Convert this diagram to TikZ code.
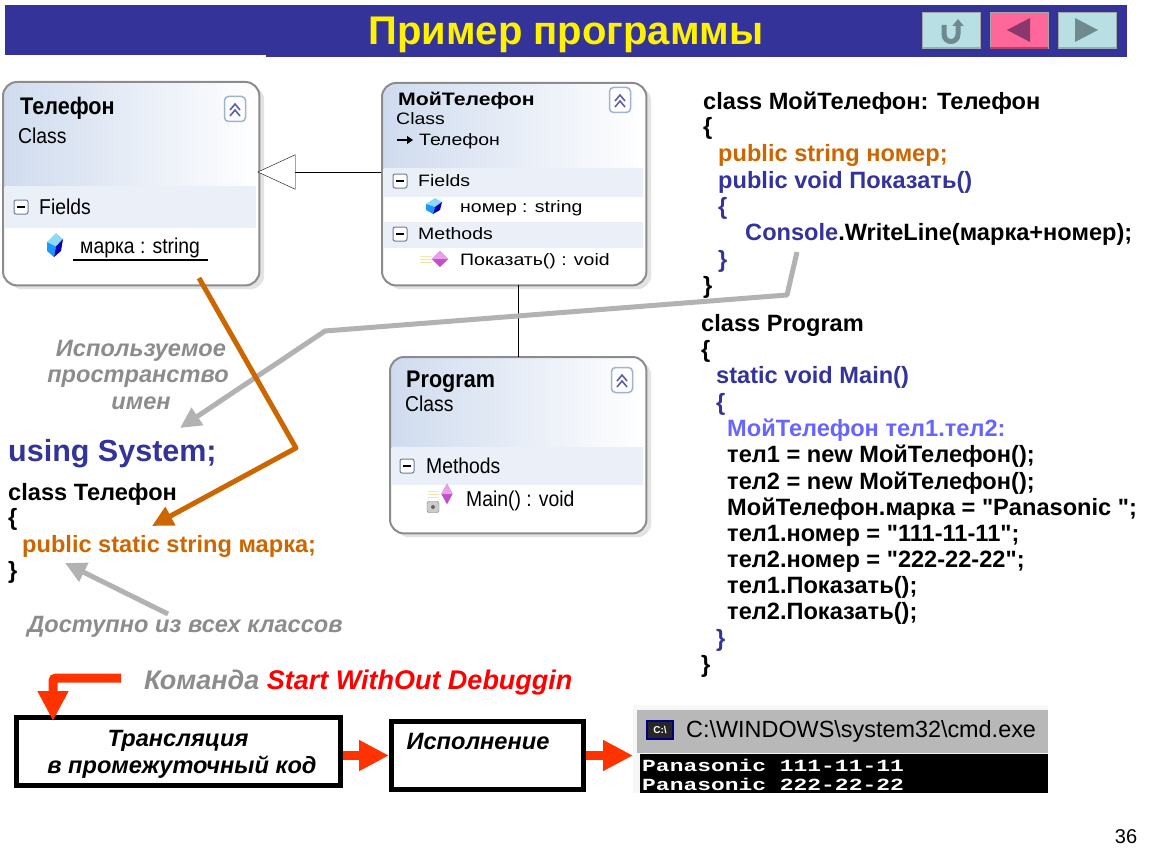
\documentclass[tikz,border=0pt]{standalone}
\usepackage{fontspec}
\setmainfont{Liberation Sans}
\newfontfamily\plainfont{Liberation Sans}
\newfontfamily\umlnarrow[FakeStretch=0.9]{Liberation Sans}
\newfontfamily\umlwide[FakeStretch=1.18]{Liberation Sans}
\newfontfamily\cmdfont[FakeStretch=1.35]{Liberation Mono}
\usetikzlibrary{arrows.meta,shadows}

\definecolor{bandblue}{HTML}{333399}
\definecolor{codeorange}{HTML}{CC6600}
\definecolor{codeblue}{HTML}{333399}
\definecolor{codelight}{HTML}{6666FF}
\definecolor{notegray}{HTML}{8C8C8C}
\definecolor{flowred}{HTML}{FF3300}
\definecolor{headblue}{HTML}{CFDBEE}
\definecolor{rowblue}{HTML}{EBEFF7}
\definecolor{btnblue}{HTML}{B8DFE3}
\definecolor{btnpink}{HTML}{FF6699}
\definecolor{btnicon}{HTML}{6F8A8C}
\definecolor{toggleedge}{HTML}{9DB3D0}
\definecolor{iconpale}{HTML}{F2E8A0}
\definecolor{iconviolet}{HTML}{C04FC8}
\definecolor{iconlilac}{HTML}{E8A0E8}

\newcommand{\qt}{{\plainfont\char34}}
\newcommand{\classframe}[2]{%
  \begin{scope}
    \clip[rounded corners=14] (#1.north west) rectangle (#1.south east);
    \shade[left color=headblue,right color=white] (#1.north west) rectangle (#1.east |- 0,#2);
  \end{scope}
  \draw[rounded corners=14,line width=2,draw=black!45] (#1.north west) rectangle (#1.south east);
}
\newcommand{\togglebtn}[3]{%
  \node (#1) [minimum width=21,minimum height=25,rounded corners=4,draw=toggleedge,line width=1.5,fill=white] at (#2,#3) {};
  \draw[line width=1.6,draw=bandblue!80] ([xshift=-5,yshift=-1]#1.center) -- ([yshift=5]#1.center) -- ([xshift=5,yshift=-1]#1.center);
  \draw[line width=1.6,draw=bandblue!80] ([xshift=-5,yshift=-7]#1.center) -- ([yshift=-1]#1.center) -- ([xshift=5,yshift=-7]#1.center);
}
\newcommand{\minusbtn}[3]{%
  \node (#1) [minimum width=14,minimum height=14,rounded corners=2,draw=toggleedge!70!black,line width=1,fill=white] at (#2,#3) {};
  \draw[line width=1.5] ([xshift=-4]#1.center) -- ([xshift=4]#1.center);
}
\newcommand{\fieldicon}[3]{%
  \begin{scope}[shift={(#1,#2)},yscale=#3]
    \fill[cyan!45] (-8,-2) -- (1,-8) -- (8,-4) -- (1,1) -- cycle;
    \fill[blue!45!cyan!90] (-8,-2) -- (1,1) -- (-1,8) -- (-8,4) -- cycle;
    \fill[blue!70!black] (1,1) -- (8,-4) -- (6,4) -- (-1,8) -- cycle;
  \end{scope}
}
\newcommand{\methodicon}[4]{%
  \begin{scope}[shift={(#1,#2)},xscale=#3,yscale=#4]
    \fill[iconviolet] (-8,0) -- (0,-9) -- (8,0) -- (0,9) -- cycle;
    \fill[iconlilac] (-8,0) -- (0,-9) -- (8,0) -- cycle;
  \end{scope}
}

\begin{document}
\begin{tikzpicture}[x=1pt,y=-1pt]
  \tikzset{
    classbox/.style={rounded corners=14,minimum width=#1,fill=white,anchor=north west,
      drop shadow={shadow xshift=5,shadow yshift=4,fill=black!22}},
    codeline/.style={anchor=base west,inner sep=0,font=\fontsize{23.6}{28}\selectfont\bfseries},
    umlname/.style={anchor=west,inner sep=0,yshift=-2,text height=18,text depth=6,font=\umlnarrow\fontsize{24}{28}\selectfont\bfseries},
    umltext/.style={anchor=west,inner sep=0,yshift=-2,text height=16,text depth=5.4,font=\umlnarrow\fontsize{21.5}{26}\selectfont},
    umlwname/.style={anchor=west,inner sep=0,yshift=-2,text height=13.5,text depth=4.5,font=\umlwide\fontsize{18}{22}\selectfont\bfseries},
    umlwtext/.style={anchor=west,inner sep=0,yshift=-1.5,text height=12.4,text depth=4.1,font=\umlwide\fontsize{16.5}{20}\selectfont},
    notetext/.style={inner sep=0,yshift=-1.5,text=notegray,text height=18,text depth=6,font=\fontsize{23.6}{28}\selectfont\bfseries\itshape},
    flowbox/.style={draw=black,line width=5,fill=white,anchor=north west},
    flowtext/.style={inner sep=0,yshift=-1.5,text height=18,text depth=6,font=\fontsize{23.6}{28}\selectfont\bfseries\itshape},
    flowarrow/.style={draw=flowred,line width=9,-{Triangle[length=30,width=29,fill=flowred]}},
    notearrow/.style={draw=black!30,line width=5,-{Triangle[length=21,width=20,fill=black!30]}},
    navbtn/.style={minimum width=58,minimum height=36,draw=black!35,fill=btnblue},
  }
  \useasboundingbox (0,0) rectangle (1150,864);

  % title band
  \fill[bandblue] (5,5) rectangle (1127,55);
  \fill[bandblue] (266,50) rectangle (1127,57);
  \node (title) [inner sep=0,text=yellow,text height=30,text depth=10,font=\fontsize{40}{46}\selectfont\bfseries] at (566,35) {Пример программы};
  \node (backbtn) [navbtn] at (951,30) {};
  \node (prevbtn) [navbtn,fill=btnpink] at (1019,30) {};
  \node (nextbtn) [navbtn] at (1087,30) {};
  \draw[line width=2.5,draw=btnicon!70] (backbtn.south west) -- (backbtn.south east);
  \draw[line width=2.5,draw=btnpink!70!black] (prevbtn.south west) -- (prevbtn.south east);
  \draw[line width=2.5,draw=btnicon!70] (nextbtn.south west) -- (nextbtn.south east);
  \draw[line width=5,draw=btnicon,-{Triangle[length=7,width=11]}] (944,25) -- (944,34) .. controls (944,44) and (958,44) .. (958,34) -- (958,19);
  \fill[black!40!btnpink!90!blue] (1007,30) -- (1030,18) -- (1030,42) -- cycle;
  \fill[btnicon] (1098,30) -- (1075,18) -- (1075,42) -- cycle;

  % class Телефон
  \node (telefon) [classbox=256,minimum height=203] at (3,82) {};
  \classframe{telefon}{186}
  \fill[rowblue] (5,186) rectangle (256,228);
  \togglebtn{teltoggle}{235}{109}
  \node (telname) [umlname] at (20,107) {Телефон};
  \node (telkind) [umltext] at (18,136) {Class};
  \minusbtn{telminus}{21}{207}
  \node (telfields) [umltext] at (39,207) {Fields};
  \fieldicon{55}{245}{1.5}
  \node (telmarka) [umltext] at (80,246) {марка : string};
  \draw[line width=2.5] (73,260) -- (208,260);

  % class МойТелефон
  \node (mytel) [classbox=264,minimum height=202] at (382,83) {};
  \classframe{mytel}{168}
  \fill[rowblue] (384,168) rectangle (643,197);
  \fill[rowblue] (384,222) rectangle (643,248);
  \togglebtn{mytoggle}{620}{100}
  \node (myname) [umlwname] at (398,99) {МойТелефон};
  \node (mykind) [umlwtext] at (396,119) {Class};
  \draw[line width=1.2,-{Triangle[length=6,width=8]}] (397,140) -- (413,140);
  \node (mybase) [umlwtext] at (419,140) {Телефон};
  \minusbtn{myminusa}{400}{181}
  \node (myfields) [umlwtext] at (418,181) {Fields};
  \fieldicon{434}{206}{1}
  \node (mynomer) [umlwtext] at (460,207) {номер : string};
  \minusbtn{myminusb}{400}{234}
  \node (mymethods) [umlwtext] at (418,234) {Methods};
  \draw[line width=1,draw=iconpale] (420,256) -- (432,256) (420,259) -- (432,259) (420,262) -- (432,262);
  \methodicon{440}{259}{1}{0.9}
  \node (myshow) [umlwtext] at (460,260) {Показать() : void};

  % class Program
  \node (prog) [classbox=256,minimum height=176] at (390,357) {};
  \classframe{prog}{447}
  \fill[rowblue] (392,447) rectangle (643,485);
  \togglebtn{progtoggle}{622}{380}
  \node (progname) [umlname] at (406,379) {Program};
  \node (progkind) [umltext] at (405,404) {Class};
  \minusbtn{progminus}{407}{466}
  \node (progmethods) [umltext] at (426,466) {Methods};
  \draw[line width=1,draw=iconpale] (428,491) -- (439,491) (428,494) -- (439,494) (428,497) -- (439,497);
  \node (proglock) [minimum width=12,minimum height=11,inner sep=0,rounded corners=2,draw=black!55,fill=black!20] at (433,507) {};
  \fill[black!60] (proglock.center) circle[radius=2];
  \methodicon{447}{494}{0.7}{1.15}
  \node (progmain) [umltext] at (466,499) {Main() : void};

  % links between classes
  \coordinate (inhstart) at (381,172);
  \draw[-{Triangle[open,length=38,width=35,fill=white]}] (inhstart) -- ([xshift=-2]telefon.east |- inhstart);
  \draw (prog.north |- mytel.south) -- (prog.north);

  % code on the right
  \node (c1) [codeline] at (703,110) {class МойТелефон: Телефон};
  \node (c2) [codeline] at (703,135) {\{};
  \node (c3) [codeline,text=codeorange] at (718,161) {public string номер;};
  \node (c4) [codeline,text=codeblue] at (718,188) {public void Показать()};
  \node (c5) [codeline,text=codeblue] at (718,214) {\{};
  \node (c6) [codeline] at (745,240) {\textcolor{codeblue}{Console}.WriteLine(марка+номер);};
  \node (c7) [codeline,text=codeblue] at (718,267) {\}};
  \node (c8) [codeline] at (703,293) {\}};
  \node (p1) [codeline] at (701,331) {class Program};
  \node (p2) [codeline] at (701,357) {\{};
  \node (p3) [codeline,text=codeblue] at (716,383) {static void Main()};
  \node (p4) [codeline,text=codeblue] at (716,410) {\{};
  \node (p5) [codeline,text=codelight] at (727,436) {МойТелефон тел1.тел2:};
  \node (p6) [codeline] at (727,462) {тел1 = new МойТелефон();};
  \node (p7) [codeline] at (727,489) {тел2 = new МойТелефон();};
  \node (p8) [codeline] at (727,515) {МойТелефон.марка = \qt Panasonic \qt;};
  \node (p9) [codeline] at (727,541) {тел1.номер = \qt 111-11-11\qt;};
  \node (p10) [codeline] at (727,567) {тел2.номер = \qt 222-22-22\qt;};
  \node (p11) [codeline] at (727,593) {тел1.Показать();};
  \node (p12) [codeline] at (727,619) {тел2.Показать();};
  \node (p13) [codeline,text=codeblue] at (716,646) {\}};
  \node (p14) [codeline] at (701,672) {\}};

  % code on the left
  \node (using) [codeline,text=codeblue,font=\fontsize{30.5}{34}\selectfont\bfseries] at (8,461) {using System;};
  \node (l1) [codeline] at (8,500) {class Телефон};
  \node (l2) [codeline] at (8,525) {\{};
  \node (l3) [codeline,text=codeorange] at (22,552) {public static string марка;};
  \node (l4) [codeline] at (8,578) {\}};

  % notes
  \node (n1) [notetext] at (141,349) {Используемое};
  \node (n2) [notetext] at (138,375) {пространство};
  \node (n3) [notetext] at (141,402) {имен};
  \node (n4) [notetext] at (185,625) {Доступно из всех классов};
  \coordinate (wl) at (797,252);
  \coordinate (wlb) at (787,295);
  \coordinate (wlc) at (325,331);
  \coordinate (wld) at (180,428);
  \draw[notearrow,line join=round] (wl) -- (wlb) -- (wlc) -- (wld);
  \coordinate (acc) at (168,614);
  \coordinate (acd) at (65,563);
  \draw[notearrow] (acc) -- (acd);
  \coordinate (ma) at (199,278);
  \coordinate (mb) at (296,448);
  \coordinate (mc) at (152,526);
  \draw[draw=codeorange,line width=5,line join=round,-{Triangle[length=21,width=20,fill=codeorange]}] (ma) -- (mb) -- (mc);

  % flow at the bottom
  \node (cmdnote) [flowtext,anchor=west,text=notegray,text height=20,text depth=7,font=\fontsize{27}{30}\selectfont\bfseries\itshape] at (144,681) {Команда \textcolor{red}{Start WithOut Debuggin}};
  \node (trans) [flowbox,minimum width=324,minimum height=68] at (14,715) {};
  \node (exec) [flowbox,minimum width=192,minimum height=68] at (389,719) {};
  \node (t1) [flowtext] at (178,739) {Трансляция};
  \node (t2) [flowtext] at (182,766) {в промежуточный код};
  \node (e1) [flowtext] at (478,742) {Исполнение};
  \node (cmdwin) [anchor=north west,minimum width=415,minimum height=88,fill=black!3,inner sep=0] at (633,705) {};
  \fill[black!28] (637,710) rectangle (1048,753);
  \fill[black] (640,754) rectangle (1048,793);
  \node (cmdicon) [minimum width=26,minimum height=18,inner sep=0,fill=black!85,draw=blue!50!black,line width=1.5,text=white,font=\fontsize{10}{11}\selectfont\bfseries] at (660,730) {C:\textbackslash};
  \node (cmdtitle) [anchor=west,inner sep=0,font=\fontsize{23.4}{26}\selectfont] at (686,731) {C:\textbackslash WINDOWS\textbackslash system32\textbackslash cmd.exe};
  \node (out1) [anchor=west,inner sep=0,text=white,font=\cmdfont\fontsize{17}{19}\selectfont\bfseries] at (642,765) {Panasonic 111-11-11};
  \node (out2) [anchor=west,inner sep=0,text=white,font=\cmdfont\fontsize{17}{19}\selectfont\bfseries] at (642,784) {Panasonic 222-22-22};
  \coordinate (cmdstart) at (121,678);
  \coordinate (cmdtip) at (53,721);
  \draw[flowarrow,rounded corners=3] (cmdstart) -- (cmdstart -| cmdtip) -- (cmdtip);
  \draw[flowarrow] (trans.east |- exec.west) -- (exec.west);
  \draw[flowarrow] (exec.east) -- (cmdwin.west |- exec.east);

  \node (pagenum) [inner sep=0,font=\fontsize{20}{24}\selectfont] at (1126,837) {36};
\end{tikzpicture}
\end{document}
